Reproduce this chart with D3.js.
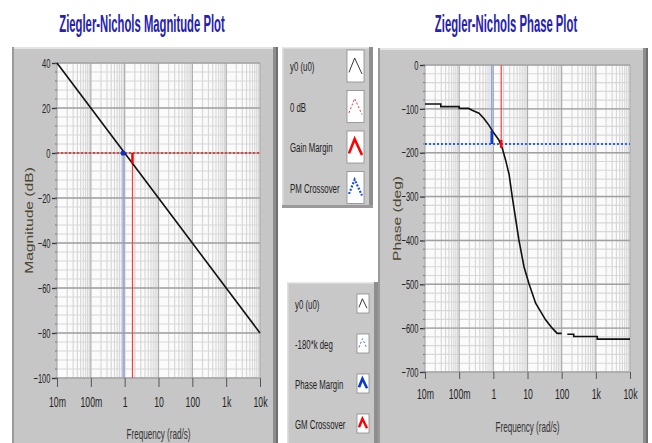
<!DOCTYPE html>
<html>
<head>
<meta charset="utf-8">
<script src="https://cdn.jsdelivr.net/npm/d3@7"></script>
<style>
  body { margin: 0; background: #fff; }
  svg { display: block; font-family: "Liberation Sans", Arial, sans-serif; }
</style>
</head>
<body>
<div id="chart"></div>
<script>
// ---- data ----
var freqTicks = [0.01, 0.1, 1, 10, 100, 1000, 10000];
var freqTickLabels = ["10m", "100m", "1", "10", "100", "1k", "10k"];
var magTicks = [40, 20, 0, -20, -40, -60, -80, -100];
var phaseTicks = [0, -100, -200, -300, -400, -500, -600, -700];

// magnitude curve (dB)
var magFreq = [0.01, 0.1, 1, 10, 100, 1000, 10000];
var magDb   = [40, 20, 0, -20, -40, -60, -80];

// phase curve (deg), null = gap in the trace
var phaseFreq = [0.01, 0.029, 0.029, 0.1, 0.1, 0.19, 0.24, 0.38, 0.53, 0.74, 0.97, 1.45, 1.83, 2.29, 2.9,
                 3.57, 5.6, 7.9, 11, 17.3, 33.8, 53, 74, 100, 120, 146, 226, 226, 1100, 1100, 10000];
var phaseDeg  = [-89, -89, -95, -95, -99, -99, -103, -110, -122, -137, -152, -171, -190, -217, -250,
                 -300, -399, -460, -498, -543, -581, -600, -612, -612, null, -614, -614, -619, -619, -625, -625];

// margins
var pmFreq = 0.9;      // phase margin crossover (0 dB)
var gmFreq = 1.7;      // gain margin crossover (-180 deg)
var pmPhase = -150;    // phase at pmFreq
var gmMag = -4.6;      // magnitude at gmFreq
var zeroDb = 0;
var critPhase = -180;

var legend1 = ["y0 (u0)", "0 dB", "Gain Margin", "PM Crossover"];
var legend2 = ["y0 (u0)", "-180*k deg", "Phase Margin", "GM Crossover"];

var W = 652, H = 443;
var SQ = 0.58;   // the screenshot is squeezed horizontally, text is narrow

var svg = d3.select("#chart").append("svg").attr("width", W).attr("height", H);
svg.append("rect").attr("width", W).attr("height", H).attr("fill", "#fff");

// narrow text: anchored at (x, y), squeezed on x
function ntext(g, x, y, str, size, anchor, sq) {
  return g.append("text")
    .attr("transform", "translate(" + x + "," + y + ") scale(" + (sq || SQ) + ",1)")
    .attr("text-anchor", anchor || "start").attr("font-size", size).text(str);
}
function squeezeAxisText(sel) {
  sel.each(function() {
    var t = d3.select(this);
    var x = +t.attr("x") || 0;
    t.attr("x", x / SQ).attr("transform", "scale(" + SQ + ",1)");
  });
}

function panel(x, y, w, h) {
  var g = svg.append("g");
  g.append("rect").attr("x", x).attr("y", y).attr("width", w).attr("height", h).attr("fill", "#c6c6c6");
  g.append("rect").attr("x", x).attr("y", y).attr("width", w).attr("height", 2).attr("fill", "#e4e4e4");
  g.append("rect").attr("x", x).attr("y", y).attr("width", 2).attr("height", h).attr("fill", "#9a9a9a");
  g.append("rect").attr("x", x + w - 5).attr("y", y).attr("width", 5).attr("height", h).attr("fill", "#8e8e8e");
  g.append("rect").attr("x", x + w - 2).attr("y", y).attr("width", 2).attr("height", h).attr("fill", "#6e6e6e");
  return g;
}

function drawPlot(o) {
  var x = o.x, y = o.y;
  var g = svg.append("g");
  var x0 = x.range()[0], x1 = x.range()[1];
  var yb = y.range()[0], yt = y.range()[1];

  g.append("rect").attr("x", x0).attr("y", yt).attr("width", x1 - x0).attr("height", yb - yt)
    .attr("fill", "#fbfbfb");

  // minor grid
  var decades = freqTicks.slice(0, -1);
  var minorX = [];
  decades.forEach(function(d) { for (var k = 2; k <= 9; k++) minorX.push(k * d); });
  var minorY = d3.range(y.domain()[0], y.domain()[1] + 0.001, o.minorStep);

  g.selectAll(".mx").data(minorX).enter().append("line")
    .attr("x1", x).attr("x2", x).attr("y1", yt).attr("y2", yb)
    .attr("stroke", "#d8d8d8").attr("stroke-width", 1.2);
  g.selectAll(".my").data(minorY).enter().append("line")
    .attr("x1", x0).attr("x2", x1).attr("y1", y).attr("y2", y)
    .attr("stroke", "#d8d8d8").attr("stroke-width", 1.2);
  // major grid
  g.selectAll(".Mx").data(freqTicks).enter().append("line")
    .attr("x1", x).attr("x2", x).attr("y1", yt).attr("y2", yb)
    .attr("stroke", "#ababab").attr("stroke-width", 1.2);
  g.selectAll(".My").data(o.yTicks).enter().append("line")
    .attr("x1", x0).attr("x2", x1).attr("y1", y).attr("y2", y)
    .attr("stroke", "#a0a0a0").attr("stroke-width", 1.4);

  // axes
  var ax = d3.axisBottom(x).tickValues(freqTicks)
    .tickFormat(function(d, i) { return freqTickLabels[i]; }).tickSize(o.xTick).tickPadding(9);
  var axg = g.append("g").attr("transform", "translate(0," + yb + ")").call(ax);
  axg.select(".domain").remove();
  axg.selectAll("line").attr("stroke", "#555");
  axg.selectAll("text").attr("font-size", 15).attr("fill", "#222")
    .attr("font-family", "'Liberation Sans', sans-serif").call(squeezeAxisText);

  var ay = d3.axisLeft(y).tickValues(o.yTicks).tickSize(5).tickPadding(1.5);
  var ayg = g.append("g").attr("transform", "translate(" + x0 + ",0)").call(ay);
  ayg.select(".domain").remove();
  ayg.selectAll("line").attr("stroke", "#333").attr("stroke-width", 1.3);
  ayg.selectAll("text").attr("font-size", 13).attr("fill", "#222")
    .attr("font-family", "'Liberation Sans', sans-serif").call(squeezeAxisText);
  g.selectAll(".mt").data(minorY).enter().append("line")
    .attr("x1", x0 - 2).attr("x2", x0).attr("y1", y).attr("y2", y)
    .attr("stroke", "#777");

  // axis titles
  ntext(g, (x0 + x1) / 2, o.xTitleY, "Frequency (rad/s)", 14, "middle").attr("fill", "#333");
  g.append("text")
    .attr("transform", "translate(" + o.yTitleX + "," + (yt + yb) / 2 + ") rotate(-90) scale(1.42,1)")
    .attr("text-anchor", "middle").attr("font-size", 11).attr("fill", "#4a4430")
    .text(o.yTitle);

  // title
  ntext(svg, o.titleX, 32, o.title, 24, "middle", 0.47)
    .attr("font-weight", "bold").attr("fill", "#2420b0");
  return g;
}

// frames
panel(12, 47, 266, 400);
panel(378, 48, 270, 400);

// magnitude plot
var xL = d3.scaleLog().domain([0.01, 10000]).range([57, 260]);
var yL = d3.scaleLinear().domain([-100, 40]).range([378, 63]);
var gL = drawPlot({x: xL, y: yL, yTicks: magTicks, minorStep: 4, xTick: 9, xTitleY: 439, yTitleX: 33,
  yTitle: "Magnitude (dB)", title: "Ziegler-Nichols Magnitude Plot", titleX: 142});

var lineL = d3.line().x(function(d) { return xL(d[0]); }).y(function(d) { return yL(d[1]); });
gL.append("path").attr("d", lineL([[xL.domain()[0], zeroDb], [xL.domain()[1], zeroDb]]))
  .attr("stroke", "#ee2222").attr("stroke-width", 1.6).attr("stroke-dasharray", "2,2").attr("fill", "none");
gL.append("path").attr("d", lineL([[pmFreq, zeroDb], [pmFreq, -100]]))
  .attr("stroke", "#7f9be6").attr("stroke-width", 1.2).attr("fill", "none");
gL.append("path").attr("d", lineL([[gmFreq, zeroDb], [gmFreq, -100]]))
  .attr("stroke", "#f04040").attr("stroke-width", 1.2).attr("fill", "none");
gL.append("path").attr("d", lineL(magFreq.map(function(f, i) { return [f, magDb[i]]; })))
  .attr("stroke", "#111").attr("stroke-width", 1.6).attr("fill", "none");
gL.append("path").attr("d", lineL([[gmFreq, zeroDb], [gmFreq, gmMag]]))
  .attr("stroke", "#ff0000").attr("stroke-width", 2.5).attr("fill", "none");
gL.append("circle").attr("cx", xL(pmFreq)).attr("cy", yL(zeroDb)).attr("r", 2.6).attr("fill", "#1030c8");

// phase plot
var xR = d3.scaleLog().domain([0.01, 10000]).range([425, 630]);
var yR = d3.scaleLinear().domain([-700, 0]).range([372, 65]);
var gR = drawPlot({x: xR, y: yR, yTicks: phaseTicks, minorStep: 20, xTick: 7, xTitleY: 432, yTitleX: 401,
  yTitle: "Phase (deg)", title: "Ziegler-Nichols Phase Plot", titleX: 506});

var lineR = d3.line().defined(function(d) { return d[1] !== null; })
  .x(function(d) { return xR(d[0]); }).y(function(d) { return yR(d[1]); });
gR.append("path").attr("d", lineR([[pmFreq, 0], [pmFreq, critPhase]]))
  .attr("stroke", "#7f9be6").attr("stroke-width", 1.2).attr("fill", "none");
gR.append("path").attr("d", lineR([[gmFreq, 0], [gmFreq, critPhase]]))
  .attr("stroke", "#f04040").attr("stroke-width", 1.2).attr("fill", "none");
gR.append("path").attr("d", lineR([[xR.domain()[0], critPhase], [xR.domain()[1], critPhase]]))
  .attr("stroke", "#2a62e8").attr("stroke-width", 2).attr("stroke-dasharray", "2,2").attr("fill", "none");
gR.append("path").attr("d", lineR(phaseFreq.map(function(f, i) { return [f, phaseDeg[i]]; })))
  .attr("stroke", "#111").attr("stroke-width", 1.6).attr("fill", "none");
gR.append("path").attr("d", lineR([[pmFreq, pmPhase], [pmFreq, critPhase]]))
  .attr("stroke", "#0a3ad0").attr("stroke-width", 2.6).attr("fill", "none");
gR.append("path").attr("d", lineR([[gmFreq, critPhase + 9], [gmFreq, critPhase - 9]]))
  .attr("stroke", "#ff0000").attr("stroke-width", 2.6).attr("fill", "none");

// legends
function legend(x, y, w, h, items, sw, styles) {
  var g = svg.append("g");
  g.append("rect").attr("x", x).attr("y", y).attr("width", w).attr("height", h).attr("fill", "#c8c8c8");
  g.append("rect").attr("x", x).attr("y", y).attr("width", w).attr("height", 1.5).attr("fill", "#e8e8e8");
  g.append("rect").attr("x", x).attr("y", y).attr("width", 1.5).attr("height", h).attr("fill", "#e0e0e0");
  g.append("rect").attr("x", x + w - 4).attr("y", y).attr("width", 4).attr("height", h).attr("fill", "#8e8e8e");
  g.append("rect").attr("x", x).attr("y", y + h - 3).attr("width", w).attr("height", 3).attr("fill", "#9a9a9a");
  items.forEach(function(t, i) {
    var sy = y + sw.top + i * sw.step;
    ntext(g, x + 8, sy + sw.h / 2 + 5, t, 13.5).attr("fill", "#222");
    var sx = x + sw.dx;
    g.append("rect").attr("x", sx).attr("y", sy).attr("width", sw.w).attr("height", sw.h)
      .attr("fill", "#fff").attr("stroke", "#8a8a8a").attr("stroke-width", 0.8);
    var s = styles[i];
    var pts = [[sx + 2, sy + sw.h * 0.7], [sx + sw.w * 0.45, sy + sw.h * 0.25], [sx + sw.w - 2, sy + sw.h * 0.75]];
    g.append("path").attr("d", d3.line()(pts)).attr("fill", "none")
      .attr("stroke", s.c).attr("stroke-width", s.w).attr("stroke-dasharray", s.d || null);
  });
}
legend(282, 47, 91, 161, legend1, {dx: 65, w: 17, h: 32, top: 3, step: 40.5},
  [{c: "#222", w: 0.9}, {c: "#ee3333", w: 1, d: "2,2"}, {c: "#ff0000", w: 2.6}, {c: "#1a4ee0", w: 2.2, d: "2,1.5"}]);
legend(287, 282, 91, 170, legend2, {dx: 70, w: 12, h: 19, top: 12, step: 40},
  [{c: "#222", w: 0.9}, {c: "#3a66e0", w: 1, d: "2,2"}, {c: "#0a3ad0", w: 2.6}, {c: "#ff0000", w: 2.4}]);
</script>
</body>
</html>
